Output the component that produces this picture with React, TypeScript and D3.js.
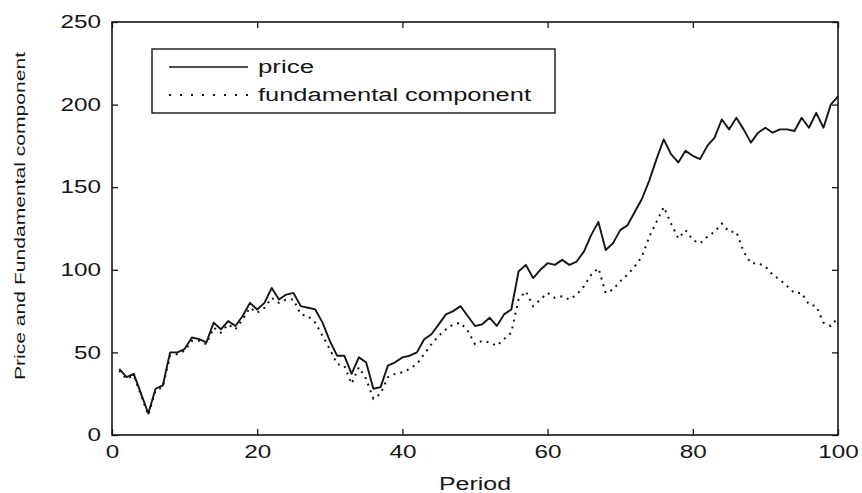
import React, { useEffect, useRef } from 'react';
import * as d3 from 'd3';

// periods 1..100
const periods = d3.range(1, 101);

const price = [
  40, 35, 37, 25, 13, 28, 30, 50, 50, 52,
  59, 58, 56, 68, 64, 69, 66, 72, 80, 76,
  80, 89, 82, 85, 86, 78, 77, 76, 68, 57,
  48, 48, 37, 47, 44, 28, 29, 42, 44, 47,
  48, 50, 58, 61, 67, 73, 75, 78, 72, 66,
  67, 71, 66, 73, 76, 99, 103, 95, 100, 104,
  103, 106, 103, 105, 111, 121, 129, 112, 116, 124,
  127, 135, 143, 154, 167, 179, 170, 165, 172, 169,
  167, 175, 180, 191, 185, 192, 185, 177, 183, 186,
  183, 185, 185, 184, 192, 186, 195, 186, 200, 205,
];

const fundamental = [
  39, 34, 36, 24, 12, 27, 29, 48, 49, 51,
  57, 57, 55, 65, 62, 67, 64, 70, 77, 74,
  77, 83, 80, 82, 82, 73, 72, 68, 60, 52,
  43, 42, 31, 41, 34, 22, 25, 35, 37, 38,
  40, 43, 49, 55, 60, 64, 67, 68, 63, 55,
  57, 56, 54, 58, 62, 82, 87, 78, 82, 86,
  83, 84, 82, 85, 90, 97, 101, 86, 88, 93,
  97, 102, 108, 120, 129, 138, 128, 119, 124, 118,
  116, 120, 123, 128, 123, 123, 111, 104, 104, 102,
  97, 94, 90, 86, 86, 79, 78, 68, 66, 71,
];

const xTicks = [0, 20, 40, 60, 80, 100];
const yTicks = [0, 50, 100, 150, 200, 250];
const legendLabels = ['price', 'fundamental component'];

const FONT = '"Liberation Sans", Arial, Helvetica, sans-serif';

export default function App() {
  const svgRef = useRef<SVGSVGElement>(null);

  useEffect(() => {
    const svg = d3.select(svgRef.current);
    svg.selectAll('*').remove();

    const left = 112, right = 838, top = 22, bottom = 435;

    const x = d3.scaleLinear().domain([0, 100]).range([left, right]);
    const y = d3.scaleLinear().domain([0, 250]).range([bottom, top]);

    const ink = '#151515';

    // axes (ticks point inward, matlab style)
    const digitW = 13.5;
    const gl = svg.append('g').attr('transform', `translate(${left},0)`)
      .call(d3.axisLeft(y).tickValues(yTicks).tickSize(-6).tickSizeOuter(0).tickPadding(11));
    const gb = svg.append('g').attr('transform', `translate(0,${bottom})`)
      .call(d3.axisBottom(x).tickValues(xTicks).tickSize(-6).tickSizeOuter(0).tickPadding(10));
    svg.append('g').attr('transform', `translate(${right},0)`)
      .call(d3.axisRight(y).tickValues(yTicks).tickSize(-6).tickSizeOuter(0).tickFormat(() => ''));
    svg.append('g').attr('transform', `translate(0,${top})`)
      .call(d3.axisTop(x).tickValues(xTicks).tickSize(-6).tickSizeOuter(0).tickFormat(() => ''));

    svg.selectAll('.domain').remove();
    svg.selectAll('.tick line').attr('stroke', ink).attr('stroke-width', 1.3);
    [gl, gb].forEach(g => {
      g.selectAll<SVGTextElement, number>('text')
        .attr('font-family', FONT)
        .attr('font-size', 18)
        .attr('fill', ink)
        .attr('textLength', d => String(d).length * digitW)
        .attr('lengthAdjust', 'spacingAndGlyphs');
    });

    // box
    svg.append('rect')
      .attr('x', left).attr('y', top)
      .attr('width', right - left).attr('height', bottom - top)
      .attr('fill', 'none').attr('stroke', ink).attr('stroke-width', 1.6);

    const line = d3.line<number>()
      .x((_, i) => x(periods[i]))
      .y(d => y(d));

    svg.append('path')
      .datum(fundamental)
      .attr('d', line)
      .attr('fill', 'none')
      .attr('stroke', ink)
      .attr('stroke-width', 2)
      .attr('stroke-dasharray', '2 5');

    svg.append('path')
      .datum(price)
      .attr('d', line)
      .attr('fill', 'none')
      .attr('stroke', ink)
      .attr('stroke-width', 1.9)
      .attr('stroke-linejoin', 'round');

    // legend
    const lg = svg.append('g');
    lg.append('rect')
      .attr('x', 152).attr('y', 49).attr('width', 403).attr('height', 64)
      .attr('fill', 'white').attr('stroke', ink).attr('stroke-width', 1.4);
    const rows = [67, 95];
    const widths = [56, 273];
    legendLabels.forEach((lab, i) => {
      lg.append('line')
        .attr('x1', 169).attr('x2', 248)
        .attr('y1', rows[i]).attr('y2', rows[i])
        .attr('stroke', ink).attr('stroke-width', i === 0 ? 1.7 : 2)
        .attr('stroke-dasharray', i === 0 ? null : '2 9');
      lg.append('text')
        .attr('x', 258).attr('y', rows[i] + 5.5)
        .attr('font-family', FONT).attr('font-size', 18).attr('fill', ink)
        .attr('textLength', widths[i]).attr('lengthAdjust', 'spacingAndGlyphs')
        .text(lab);
    });

    // axis titles
    svg.append('text')
      .attr('x', 475).attr('y', 490)
      .attr('text-anchor', 'middle')
      .attr('font-family', FONT).attr('font-size', 18).attr('fill', ink)
      .attr('textLength', 72).attr('lengthAdjust', 'spacingAndGlyphs')
      .text('Period');

    svg.append('text')
      .attr('transform', 'translate(25,216) rotate(-90)')
      .attr('text-anchor', 'middle')
      .attr('font-family', FONT).attr('font-size', 15.5).attr('fill', ink)
      .attr('textLength', 328).attr('lengthAdjust', 'spacingAndGlyphs')
      .text('Price and Fundamental component');
  }, []);

  return (
    <svg
      ref={svgRef}
      width={862}
      height={493}
      style={{ position: 'absolute', left: 0, top: 0, background: 'white' }}
    />
  );
}
